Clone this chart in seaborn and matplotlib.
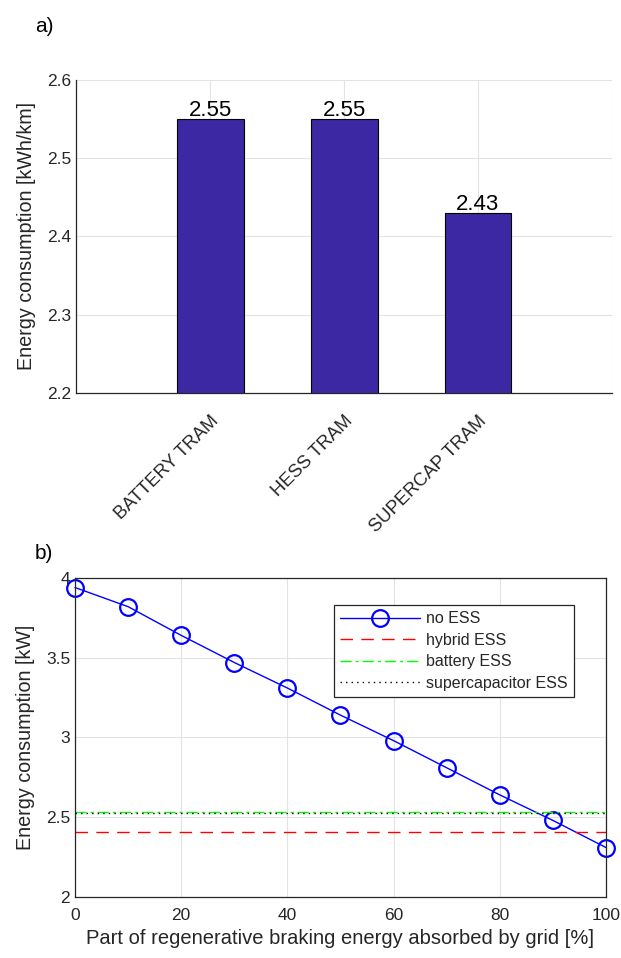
import matplotlib
matplotlib.use("Agg")
import matplotlib.pyplot as plt
import seaborn as sns
import pandas as pd

# data
trams = ["BATTERY TRAM", "HESS TRAM", "SUPERCAP TRAM"]
tram_energy = [2.55, 2.55, 2.43]

grid_share = [0, 10, 20, 30, 40, 50, 60, 70, 80, 90, 100]
no_ess = [3.94, 3.82, 3.64, 3.47, 3.31, 3.14, 2.98, 2.81, 2.64, 2.48, 2.31]
hybrid_ess = 2.405
battery_ess = 2.535
supercap_ess = 2.525

sns.set_theme(style="whitegrid")
plt.rcParams["font.family"] = ["Liberation Sans", "DejaVu Sans"]
plt.rcParams["xtick.direction"] = "in"
plt.rcParams["ytick.direction"] = "in"

fig = plt.figure(figsize=(6.21, 9.58), dpi=100)
ax1 = fig.add_axes([0.1224, 0.5898, 0.8631, 0.3267])
ax2 = fig.add_axes([0.1208, 0.0637, 0.8550, 0.3330])

grid_kw = dict(color="#e3e3e3", linewidth=0.8)
dark = "#262626"

# a) bar chart
df_bar = pd.DataFrame({"tram": trams, "energy": tram_energy})
sns.barplot(data=df_bar, x="tram", y="energy", color="#3C28A3", saturation=1,
            width=0.5, edgecolor="black", linewidth=0.8, ax=ax1)
ax1.set_xlim(-1, 3)
ax1.set_ylim(2.2, 2.6)
ax1.set_yticks([2.2, 2.3, 2.4, 2.5, 2.6])
ax1.set_xticks([-1, 0, 1, 2, 3])
ax1.set_xticklabels(["", trams[0], trams[1], trams[2], ""], rotation=45,
                    ha="right", rotation_mode="anchor", fontsize=13.2, color=dark)
ax1.tick_params(axis="x", pad=14)
ax1.set_xlabel("")
ax1.set_ylabel("Energy consumption [kWh/km]", fontsize=14.2, color=dark, labelpad=8)
ax1.tick_params(axis="y", labelsize=12.5, colors=dark)
ax1.grid(True, **grid_kw)
ax1.set_axisbelow(True)
for s in ["top", "right"]:
    ax1.spines[s].set_visible(False)
for s in ["left", "bottom"]:
    ax1.spines[s].set_color(dark)
    ax1.spines[s].set_linewidth(0.9)
for i, v in enumerate(tram_energy):
    ax1.text(i, v - 0.003, f"{v:.2f}", ha="center", va="bottom", fontsize=16, color="black")

# b) line chart
df_line = pd.DataFrame({"share": grid_share, "energy": no_ess})
sns.lineplot(data=df_line, x="share", y="energy", color="#0000FF", linewidth=1,
             marker="o", markersize=12, markerfacecolor="none",
             markeredgecolor="#0000FF", markeredgewidth=1.6, label="no ESS",
             clip_on=False, ax=ax2)
ax2.axhline(hybrid_ess, color="#FF0000", linestyle=(0, (9, 6)), linewidth=1, label="hybrid ESS")
ax2.axhline(battery_ess, color="#00FF00", linestyle=(0, (8, 3, 2, 3)), linewidth=1, label="battery ESS")
ax2.axhline(supercap_ess, color="black", linestyle=(0, (1, 3)), linewidth=1, label="supercapacitor ESS")
ax2.set_xlim(0, 100)
ax2.set_ylim(2, 4)
ax2.set_xticks([0, 20, 40, 60, 80, 100])
ax2.set_yticks([2, 2.5, 3, 3.5, 4])
ax2.set_yticklabels(["2", "2.5", "3", "3.5", "4"])
ax2.set_xlabel("Part of regenerative braking energy absorbed by grid [%]", fontsize=14.5, color=dark)
ax2.set_ylabel("Energy consumption [kW]", fontsize=14.2, color=dark, labelpad=8)
ax2.tick_params(labelsize=12.5, colors=dark)
ax2.tick_params(axis="x", pad=8)
ax2.grid(True, **grid_kw)
for s in ax2.spines.values():
    s.set_color(dark)
    s.set_linewidth(0.9)
leg = ax2.legend(loc="upper left", bbox_to_anchor=(0.487, 0.915), borderaxespad=0,
                 fontsize=11.5, frameon=True, fancybox=False, framealpha=1,
                 edgecolor=dark, handlelength=5.0, handletextpad=0.4,
                 borderpad=0.4, labelspacing=0.4)
leg.get_frame().set_linewidth(0.9)

fig.text(0.056, 0.972, "a)", fontsize=15, color="black", va="center")
fig.text(0.056, 0.422, "b)", fontsize=15, color="black", va="center")

fig.savefig("out.png", dpi=100)
